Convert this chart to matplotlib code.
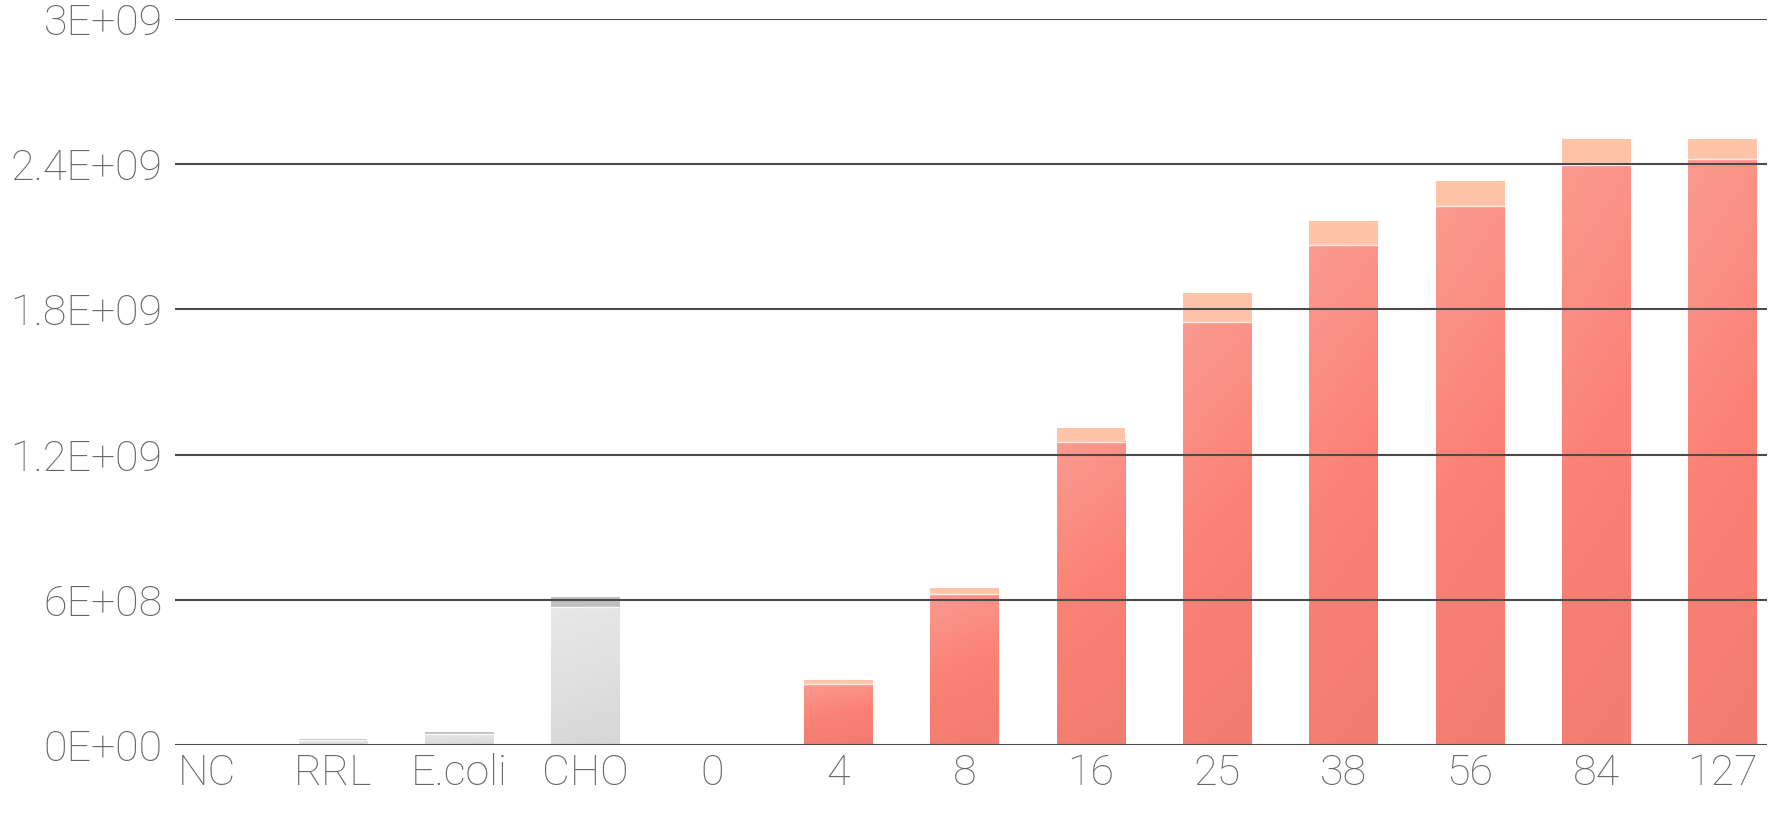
import numpy as np
import matplotlib
matplotlib.use("Agg")
import matplotlib.pyplot as plt
from matplotlib.colors import LinearSegmentedColormap

# values
categories = ['NC', 'RRL', 'E.coli', 'CHO', '0', '4', '8', '16', '25', '38', '56', '84', '127']
base_vals = [0, 2.0e7, 4.6e7, 5.70e8, 0, 2.51e8, 6.25e8, 1.254e9, 1.749e9, 2.066e9, 2.227e9, 2.397e9, 2.421e9]
top_vals = [0, 0.5e7, 0.8e7, 0.43e8, 0, 0.18e8, 0.24e8, 0.56e8, 1.17e8, 0.98e8, 1.04e8, 1.07e8, 0.83e8]
is_control = [True, True, True, True, False, False, False, False, False, False, False, False, False]
yticks = [0, 6e8, 1.2e9, 1.8e9, 2.4e9, 3e9]
ytick_labels = ['0E+00', '6E+08', '1.2E+09', '1.8E+09', '2.4E+09', '3E+09']

plt.rcParams['font.family'] = ['Roboto', 'DejaVu Sans']
plt.rcParams['font.weight'] = 'light'

fig = plt.figure(figsize=(17.7, 8.18), dpi=100)
ax = fig.add_axes([0.0989, 0.0892, 0.8994, 0.8876])

red_cmap = LinearSegmentedColormap.from_list('red', [(0, '#F27C70'), (0.5, '#FA8174'), (1, '#FA9A90')])
gray_cmap = LinearSegmentedColormap.from_list('gray', ['#D6D6D6', '#E0E0E0', '#E8E8E8'])

# gradient: lighter towards the top, a bit towards the left
gy, gx = np.mgrid[0:1:60j, 0:1:20j]
grad = 0.85 * gy + 0.15 * (1 - gx)

width = 0.545
x = np.arange(len(categories))
for i in range(len(categories)):
    b = base_vals[i]
    t = top_vals[i]
    if b + t == 0:
        continue
    x0 = x[i] - width / 2
    x1 = x[i] + width / 2
    cmap = gray_cmap if is_control[i] else red_cmap
    ax.imshow(grad, extent=[x0, x1, 0, b], origin='lower', aspect='auto',
              cmap=cmap, vmin=0, vmax=1, zorder=1, interpolation='bilinear')
    top_col = '#BFBFBF' if is_control[i] else '#FFC4A8'
    ax.bar(x[i], t, width=width, bottom=b, color=top_col, edgecolor='none', zorder=1)
    ax.plot([x0, x1], [b, b], color='white', lw=1, alpha=0.8, zorder=1.5)

ax.set_xlim(-0.25, 12.35)
ax.set_ylim(0, 3e9)
ax.set_yticks(yticks)
ax.set_yticklabels(ytick_labels)
ax.set_xticks(x)
ax.set_xticklabels(categories)
ax.tick_params(axis='both', length=0, labelsize=31, labelcolor='#666666')
ax.tick_params(axis='y', pad=9)
ax.tick_params(axis='x', pad=6)
ax.grid(axis='y', color='#4a4a4a', lw=1.5)
ax.grid(axis='x', visible=False)
ax.set_axisbelow(False)
for s in ax.spines.values():
    s.set_visible(False)

fig.savefig('out.png', dpi=100, facecolor='white')
